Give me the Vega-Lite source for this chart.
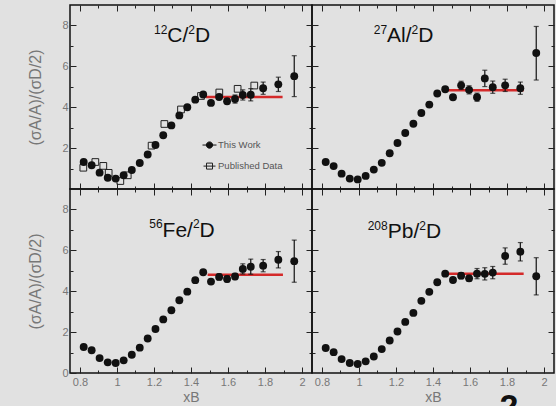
{
  "$schema": "https://vega.github.io/schema/vega-lite/v6.json",
  "background": "#e1e1e1",
  "padding": {"left": 27, "top": 3, "right": 0, "bottom": 0},
  "config": {
    "font": "Liberation Sans",
    "view": {"stroke": "#111", "strokeWidth": 1.5},
    "axis": {
      "domain": false, "grid": false, "tickColor": "#222", "tickWidth": 1,
      "labelFont": "Liberation Sans", "labelFontSize": 11, "labelColor": "#777",
      "titleFont": "Liberation Sans", "titleFontSize": 16, "titleColor": "#777", "titleFontWeight": "normal"
    }
  },
  "datasets": {
    "pts": [
      {"p":"C","x":0.82,"y":1.32},{"p":"C","x":0.863,"y":1.16},{"p":"C","x":0.906,"y":0.8},{"p":"C","x":0.95,"y":0.55},{"p":"C","x":0.993,"y":0.51},
      {"p":"C","x":1.036,"y":0.67},{"p":"C","x":1.08,"y":0.93},{"p":"C","x":1.123,"y":1.27},{"p":"C","x":1.166,"y":1.69},{"p":"C","x":1.208,"y":2.15},
      {"p":"C","x":1.25,"y":2.63},{"p":"C","x":1.294,"y":3.11},{"p":"C","x":1.337,"y":3.6},{"p":"C","x":1.38,"y":4.0},{"p":"C","x":1.423,"y":4.37},
      {"p":"C","x":1.466,"y":4.62},{"p":"C","x":1.508,"y":4.21},{"p":"C","x":1.552,"y":4.5},{"p":"C","x":1.595,"y":4.29},{"p":"C","x":1.638,"y":4.4},
      {"p":"C","x":1.68,"y":4.6},{"p":"C","x":1.723,"y":4.61},{"p":"C","x":1.79,"y":4.93},{"p":"C","x":1.872,"y":5.12},{"p":"C","x":1.958,"y":5.52},
      {"p":"Al","x":0.82,"y":1.32},{"p":"Al","x":0.863,"y":1.12},{"p":"Al","x":0.906,"y":0.75},{"p":"Al","x":0.95,"y":0.51},{"p":"Al","x":0.993,"y":0.47},
      {"p":"Al","x":1.036,"y":0.64},{"p":"Al","x":1.08,"y":0.95},{"p":"Al","x":1.123,"y":1.28},{"p":"Al","x":1.166,"y":1.75},{"p":"Al","x":1.208,"y":2.25},
      {"p":"Al","x":1.25,"y":2.74},{"p":"Al","x":1.294,"y":3.19},{"p":"Al","x":1.337,"y":3.72},{"p":"Al","x":1.38,"y":4.13},{"p":"Al","x":1.423,"y":4.67},
      {"p":"Al","x":1.466,"y":4.88},{"p":"Al","x":1.508,"y":4.49},{"p":"Al","x":1.552,"y":5.07},{"p":"Al","x":1.595,"y":4.85},{"p":"Al","x":1.638,"y":4.49},
      {"p":"Al","x":1.68,"y":5.41},{"p":"Al","x":1.723,"y":4.98},{"p":"Al","x":1.79,"y":5.07},{"p":"Al","x":1.872,"y":4.93},{"p":"Al","x":1.958,"y":6.65},
      {"p":"Fe","x":0.82,"y":1.27},{"p":"Fe","x":0.863,"y":1.11},{"p":"Fe","x":0.906,"y":0.73},{"p":"Fe","x":0.95,"y":0.52},{"p":"Fe","x":0.993,"y":0.49},
      {"p":"Fe","x":1.036,"y":0.62},{"p":"Fe","x":1.08,"y":0.89},{"p":"Fe","x":1.123,"y":1.24},{"p":"Fe","x":1.166,"y":1.69},{"p":"Fe","x":1.208,"y":2.15},
      {"p":"Fe","x":1.25,"y":2.62},{"p":"Fe","x":1.294,"y":3.07},{"p":"Fe","x":1.337,"y":3.56},{"p":"Fe","x":1.38,"y":3.98},{"p":"Fe","x":1.423,"y":4.54},
      {"p":"Fe","x":1.466,"y":4.93},{"p":"Fe","x":1.508,"y":4.47},{"p":"Fe","x":1.552,"y":4.7},{"p":"Fe","x":1.595,"y":4.6},{"p":"Fe","x":1.638,"y":4.72},
      {"p":"Fe","x":1.68,"y":5.09},{"p":"Fe","x":1.723,"y":5.2},{"p":"Fe","x":1.79,"y":5.25},{"p":"Fe","x":1.872,"y":5.54},{"p":"Fe","x":1.958,"y":5.47},
      {"p":"Pb","x":0.82,"y":1.22},{"p":"Pb","x":0.863,"y":1.02},{"p":"Pb","x":0.906,"y":0.68},{"p":"Pb","x":0.95,"y":0.49},{"p":"Pb","x":0.993,"y":0.44},
      {"p":"Pb","x":1.036,"y":0.57},{"p":"Pb","x":1.08,"y":0.81},{"p":"Pb","x":1.123,"y":1.17},{"p":"Pb","x":1.166,"y":1.59},{"p":"Pb","x":1.208,"y":2.03},
      {"p":"Pb","x":1.25,"y":2.5},{"p":"Pb","x":1.294,"y":2.94},{"p":"Pb","x":1.337,"y":3.53},{"p":"Pb","x":1.38,"y":3.97},{"p":"Pb","x":1.423,"y":4.44},
      {"p":"Pb","x":1.466,"y":4.86},{"p":"Pb","x":1.508,"y":4.55},{"p":"Pb","x":1.552,"y":4.76},{"p":"Pb","x":1.595,"y":4.63},{"p":"Pb","x":1.638,"y":4.86},
      {"p":"Pb","x":1.68,"y":4.85},{"p":"Pb","x":1.723,"y":4.91},{"p":"Pb","x":1.79,"y":5.72},{"p":"Pb","x":1.872,"y":5.93},{"p":"Pb","x":1.958,"y":4.73}
    ],
    "err": [
      {"p":"C","x":1.552,"lo":4.38,"hi":4.62},{"p":"C","x":1.595,"lo":4.17,"hi":4.41},{"p":"C","x":1.638,"lo":4.2,"hi":4.6},{"p":"C","x":1.68,"lo":4.35,"hi":4.85},
      {"p":"C","x":1.723,"lo":4.31,"hi":4.91},{"p":"C","x":1.79,"lo":4.63,"hi":5.23},{"p":"C","x":1.872,"lo":4.77,"hi":5.47},{"p":"C","x":1.958,"lo":4.52,"hi":6.52},
      {"p":"Al","x":1.552,"lo":4.87,"hi":5.27},{"p":"Al","x":1.595,"lo":4.65,"hi":5.05},{"p":"Al","x":1.638,"lo":4.29,"hi":4.69},{"p":"Al","x":1.68,"lo":5.01,"hi":5.81},
      {"p":"Al","x":1.723,"lo":4.68,"hi":5.28},{"p":"Al","x":1.79,"lo":4.77,"hi":5.37},{"p":"Al","x":1.872,"lo":4.63,"hi":5.23},{"p":"Al","x":1.958,"lo":5.33,"hi":7.95},
      {"p":"Fe","x":1.552,"lo":4.55,"hi":4.85},{"p":"Fe","x":1.595,"lo":4.45,"hi":4.75},{"p":"Fe","x":1.638,"lo":4.57,"hi":4.87},{"p":"Fe","x":1.68,"lo":4.84,"hi":5.34},
      {"p":"Fe","x":1.723,"lo":4.83,"hi":5.57},{"p":"Fe","x":1.79,"lo":4.95,"hi":5.55},{"p":"Fe","x":1.872,"lo":5.14,"hi":5.94},{"p":"Fe","x":1.958,"lo":4.44,"hi":6.5},
      {"p":"Pb","x":1.552,"lo":4.61,"hi":4.91},{"p":"Pb","x":1.595,"lo":4.48,"hi":4.78},{"p":"Pb","x":1.638,"lo":4.61,"hi":5.11},{"p":"Pb","x":1.68,"lo":4.55,"hi":5.15},
      {"p":"Pb","x":1.723,"lo":4.61,"hi":5.21},{"p":"Pb","x":1.79,"lo":5.32,"hi":6.12},{"p":"Pb","x":1.872,"lo":5.48,"hi":6.38},{"p":"Pb","x":1.958,"lo":3.82,"hi":5.64}
    ],
    "fit": [
      {"p":"C","x1":1.48,"x2":1.895,"y":4.5},{"p":"Al","x1":1.48,"x2":1.89,"y":4.83},
      {"p":"Fe","x1":1.49,"x2":1.897,"y":4.81},{"p":"Pb","x1":1.48,"x2":1.89,"y":4.85}
    ],
    "pub": [
      {"x":0.818,"y":1.04},{"x":0.883,"y":1.32},{"x":0.926,"y":1.13},{"x":0.955,"y":0.79},{"x":1.018,"y":0.39},{"x":1.058,"y":0.67},
      {"x":1.187,"y":2.12},{"x":1.256,"y":3.18},{"x":1.346,"y":3.89},{"x":1.454,"y":4.55},{"x":1.553,"y":4.72},{"x":1.652,"y":4.9},{"x":1.742,"y":5.06}
    ],
    "lab": [
      {"p":"C","k":"sup","x":1.2,"y":7.56,"t":"12"},{"p":"C","k":"main","x":1.2719,"y":7.17,"t":"C/"},
      {"p":"C","k":"sup","x":1.3854,"y":7.56,"t":"2"},{"p":"C","k":"main","x":1.4216,"y":7.17,"t":"D"},
      {"p":"Al","k":"sup","x":1.0795,"y":7.56,"t":"27"},{"p":"Al","k":"main","x":1.1514,"y":7.17,"t":"Al/"},
      {"p":"Al","k":"sup","x":1.2838,"y":7.56,"t":"2"},{"p":"Al","k":"main","x":1.32,"y":7.17,"t":"D"},
      {"p":"Fe","k":"sup","x":1.1746,"y":7.09,"t":"56"},{"p":"Fe","k":"main","x":1.2465,"y":6.66,"t":"Fe/"},
      {"p":"Fe","k":"sup","x":1.4103,"y":7.09,"t":"2"},{"p":"Fe","k":"main","x":1.4465,"y":6.66,"t":"D"},
      {"p":"Pb","k":"sup","x":1.047,"y":7.01,"t":"208"},{"p":"Pb","k":"main","x":1.1551,"y":6.58,"t":"Pb/"},
      {"p":"Pb","k":"sup","x":1.3254,"y":7.01,"t":"2"},{"p":"Pb","k":"main","x":1.3616,"y":6.58,"t":"D"}
    ],
    "leg": [
      {"k":"work","x":1.5,"tx":1.546,"y":2.15,"t":"This Work"},
      {"k":"pub","x":1.5,"tx":1.546,"y":1.12,"t":"Published Data"}
    ],
    "big": [{"x":1.81,"y":-2.2,"t":"2"}]
  },
  "columns": 2,
  "spacing": 0,
  "bounds": "flush",
  "concat": [
      {"width": 242, "height": 184,
       "resolve": {"axis": {"x": "independent", "y": "independent"}},
       "layer": [
        {"data": {"name": "fit"}, "transform": [{"filter": "datum.p === 'C'"}],
         "mark": {"type": "rule", "color": "#d42a2a", "strokeWidth": 2.5},
         "encoding": {
           "x": {"field": "x1", "type": "quantitative", "scale": {"domain": [0.746, 2.054], "nice": false, "zero": false},
                 "axis": {"orient": "bottom", "values": [0.8,0.9,1,1.1,1.2,1.3,1.4,1.5,1.6,1.7,1.8,1.9,2], "labels": false, "title": null,
                          "tickSize": {"condition": {"test": "round(datum.value*10) % 2 === 0", "value": -6}, "value": -3}}},
           "x2": {"field": "x2"},
           "y": {"field": "y", "type": "quantitative", "scale": {"domain": [0, 9], "nice": false, "zero": false},
                 "axis": {"orient": "left", "values": [1,2,3,4,5,6,7,8], "labelExpr": "datum.value % 2 === 0 ? datum.label : ''",
                          "labelOverlap": false, "labelPadding": 8, "title": "(σA/A)/(σD/2)", "titlePadding": 18,
                          "tickSize": {"condition": {"test": "datum.value % 2 === 0", "value": -6}, "value": -3}}}
         }},
        {"data": {"name": "err"}, "transform": [{"filter": "datum.p === 'C'"}],
         "mark": {"type": "rule", "color": "#111", "strokeWidth": 1.2},
         "encoding": {
           "x": {"field": "x", "type": "quantitative",
                 "axis": {"orient": "top", "values": [0.8,0.9,1,1.1,1.2,1.3,1.4,1.5,1.6,1.7,1.8,1.9,2], "labels": false, "title": null,
                          "tickSize": {"condition": {"test": "round(datum.value*10) % 2 === 0", "value": -6}, "value": -3}}},
           "y": {"field": "lo", "type": "quantitative",
                 "axis": {"orient": "right", "values": [1,2,3,4,5,6,7,8], "labels": false, "title": null,
                          "tickSize": {"condition": {"test": "datum.value % 2 === 0", "value": -6}, "value": -3}}},
           "y2": {"field": "hi"}
         }},
        {"data": {"name": "err"}, "transform": [{"filter": "datum.p === 'C'"}],
         "mark": {"type": "tick", "orient": "horizontal", "color": "#111", "size": 5, "thickness": 1.2},
         "encoding": {"x": {"field": "x", "type": "quantitative", "axis": null}, "y": {"field": "lo", "type": "quantitative", "axis": null}}},
        {"data": {"name": "err"}, "transform": [{"filter": "datum.p === 'C'"}],
         "mark": {"type": "tick", "orient": "horizontal", "color": "#111", "size": 5, "thickness": 1.2},
         "encoding": {"x": {"field": "x", "type": "quantitative", "axis": null}, "y": {"field": "hi", "type": "quantitative", "axis": null}}},
        {"data": {"name": "pub"},
         "mark": {"type": "point", "shape": "square", "filled": false, "stroke": "#222", "strokeWidth": 1, "size": 45, "opacity": 1},
         "encoding": {"x": {"field": "x", "type": "quantitative", "axis": null}, "y": {"field": "y", "type": "quantitative", "axis": null}}},
        {"data": {"name": "pts"}, "transform": [{"filter": "datum.p === 'C'"}],
         "mark": {"type": "circle", "color": "#111", "size": 62, "opacity": 1},
         "encoding": {"x": {"field": "x", "type": "quantitative", "axis": null}, "y": {"field": "y", "type": "quantitative", "axis": null}}},
        {"data": {"name": "lab"}, "transform": [{"filter": "datum.p === 'C' && datum.k === 'main'"}],
         "mark": {"type": "text", "fontSize": 21, "color": "#111", "align": "left", "baseline": "alphabetic"},
         "encoding": {"x": {"field": "x", "type": "quantitative", "axis": null}, "y": {"field": "y", "type": "quantitative", "axis": null}, "text": {"field": "t"}}},
        {"data": {"name": "lab"}, "transform": [{"filter": "datum.p === 'C' && datum.k === 'sup'"}],
         "mark": {"type": "text", "fontSize": 12, "color": "#111", "align": "left", "baseline": "alphabetic"},
         "encoding": {"x": {"field": "x", "type": "quantitative", "axis": null}, "y": {"field": "y", "type": "quantitative", "axis": null}, "text": {"field": "t"}}},
        {"data": {"name": "leg"}, "transform": [{"filter": "datum.k === 'work'"}],
         "mark": {"type": "point", "shape": "M-1,0H1M-0.45,0A0.45,0.45 0 1,0 0.45,0A0.45,0.45 0 1,0 -0.45,0Z", "fill": "#111", "stroke": "#111", "strokeWidth": 1, "size": 196, "opacity": 1},
         "encoding": {"x": {"field": "x", "type": "quantitative", "axis": null}, "y": {"field": "y", "type": "quantitative", "axis": null}}},
        {"data": {"name": "leg"}, "transform": [{"filter": "datum.k === 'pub'"}],
         "mark": {"type": "point", "shape": "M-1,0H1M-0.5,-0.5H0.5V0.5H-0.5Z", "filled": false, "fill": null, "stroke": "#222", "strokeWidth": 1, "size": 144, "opacity": 1},
         "encoding": {"x": {"field": "x", "type": "quantitative", "axis": null}, "y": {"field": "y", "type": "quantitative", "axis": null}}},
        {"data": {"name": "leg"},
         "mark": {"type": "text", "fontSize": 9.5, "color": "#555", "align": "left", "baseline": "middle"},
         "encoding": {"x": {"field": "tx", "type": "quantitative", "axis": null}, "y": {"field": "y", "type": "quantitative", "axis": null}, "text": {"field": "t"}}}
       ]},
      {"width": 242, "height": 184,
       "resolve": {"axis": {"x": "independent", "y": "independent"}},
       "layer": [
        {"data": {"name": "fit"}, "transform": [{"filter": "datum.p === 'Al'"}],
         "mark": {"type": "rule", "color": "#d42a2a", "strokeWidth": 2.5},
         "encoding": {
           "x": {"field": "x1", "type": "quantitative", "scale": {"domain": [0.746, 2.054], "nice": false, "zero": false},
                 "axis": {"orient": "bottom", "values": [0.8,0.9,1,1.1,1.2,1.3,1.4,1.5,1.6,1.7,1.8,1.9,2], "labels": false, "title": null,
                          "tickSize": {"condition": {"test": "round(datum.value*10) % 2 === 0", "value": -6}, "value": -3}}},
           "x2": {"field": "x2"},
           "y": {"field": "y", "type": "quantitative", "scale": {"domain": [0, 9], "nice": false, "zero": false},
                 "axis": {"orient": "left", "values": [1,2,3,4,5,6,7,8], "labels": false, "title": null,
                          "tickSize": {"condition": {"test": "datum.value % 2 === 0", "value": -6}, "value": -3}}}
         }},
        {"data": {"name": "err"}, "transform": [{"filter": "datum.p === 'Al'"}],
         "mark": {"type": "rule", "color": "#111", "strokeWidth": 1.2},
         "encoding": {
           "x": {"field": "x", "type": "quantitative",
                 "axis": {"orient": "top", "values": [0.8,0.9,1,1.1,1.2,1.3,1.4,1.5,1.6,1.7,1.8,1.9,2], "labels": false, "title": null,
                          "tickSize": {"condition": {"test": "round(datum.value*10) % 2 === 0", "value": -6}, "value": -3}}},
           "y": {"field": "lo", "type": "quantitative",
                 "axis": {"orient": "right", "values": [1,2,3,4,5,6,7,8], "labels": false, "title": null,
                          "tickSize": {"condition": {"test": "datum.value % 2 === 0", "value": -6}, "value": -3}}},
           "y2": {"field": "hi"}
         }},
        {"data": {"name": "err"}, "transform": [{"filter": "datum.p === 'Al'"}],
         "mark": {"type": "tick", "orient": "horizontal", "color": "#111", "size": 5, "thickness": 1.2},
         "encoding": {"x": {"field": "x", "type": "quantitative", "axis": null}, "y": {"field": "lo", "type": "quantitative", "axis": null}}},
        {"data": {"name": "err"}, "transform": [{"filter": "datum.p === 'Al'"}],
         "mark": {"type": "tick", "orient": "horizontal", "color": "#111", "size": 5, "thickness": 1.2},
         "encoding": {"x": {"field": "x", "type": "quantitative", "axis": null}, "y": {"field": "hi", "type": "quantitative", "axis": null}}},
        {"data": {"name": "pts"}, "transform": [{"filter": "datum.p === 'Al'"}],
         "mark": {"type": "circle", "color": "#111", "size": 62, "opacity": 1},
         "encoding": {"x": {"field": "x", "type": "quantitative", "axis": null}, "y": {"field": "y", "type": "quantitative", "axis": null}}},
        {"data": {"name": "lab"}, "transform": [{"filter": "datum.p === 'Al' && datum.k === 'main'"}],
         "mark": {"type": "text", "fontSize": 21, "color": "#111", "align": "left", "baseline": "alphabetic"},
         "encoding": {"x": {"field": "x", "type": "quantitative", "axis": null}, "y": {"field": "y", "type": "quantitative", "axis": null}, "text": {"field": "t"}}},
        {"data": {"name": "lab"}, "transform": [{"filter": "datum.p === 'Al' && datum.k === 'sup'"}],
         "mark": {"type": "text", "fontSize": 12, "color": "#111", "align": "left", "baseline": "alphabetic"},
         "encoding": {"x": {"field": "x", "type": "quantitative", "axis": null}, "y": {"field": "y", "type": "quantitative", "axis": null}, "text": {"field": "t"}}}
       ]},
      {"width": 242, "height": 184,
       "resolve": {"axis": {"x": "independent", "y": "independent"}},
       "layer": [
        {"data": {"name": "fit"}, "transform": [{"filter": "datum.p === 'Fe'"}],
         "mark": {"type": "rule", "color": "#d42a2a", "strokeWidth": 2.5},
         "encoding": {
           "x": {"field": "x1", "type": "quantitative", "scale": {"domain": [0.746, 2.054], "nice": false, "zero": false},
                 "axis": {"orient": "bottom", "values": [0.8,0.9,1,1.1,1.2,1.3,1.4,1.5,1.6,1.7,1.8,1.9,2],
                          "labelExpr": "round(datum.value*10) % 2 === 0 ? format(datum.value, '~g') : ''",
                          "labelFlush": false, "labelOverlap": false, "labelPadding": 9, "title": "xB", "titlePadding": 0, "titleFontSize": 14,
                          "tickSize": {"condition": {"test": "round(datum.value*10) % 2 === 0", "value": -6}, "value": -3}}},
           "x2": {"field": "x2"},
           "y": {"field": "y", "type": "quantitative", "scale": {"domain": [0, 9], "nice": false, "zero": false},
                 "axis": {"orient": "left", "values": [0,1,2,3,4,5,6,7,8], "labelExpr": "datum.value % 2 === 0 ? datum.label : ''",
                          "labelOverlap": false, "labelPadding": 8, "title": "(σA/A)/(σD/2)", "titlePadding": 18,
                          "tickSize": {"condition": {"test": "datum.value % 2 === 0", "value": -6}, "value": -3}}}
         }},
        {"data": {"name": "err"}, "transform": [{"filter": "datum.p === 'Fe'"}],
         "mark": {"type": "rule", "color": "#111", "strokeWidth": 1.2},
         "encoding": {
           "x": {"field": "x", "type": "quantitative",
                 "axis": {"orient": "top", "values": [0.8,0.9,1,1.1,1.2,1.3,1.4,1.5,1.6,1.7,1.8,1.9,2], "labels": false, "title": null,
                          "tickSize": {"condition": {"test": "round(datum.value*10) % 2 === 0", "value": -6}, "value": -3}}},
           "y": {"field": "lo", "type": "quantitative",
                 "axis": {"orient": "right", "values": [1,2,3,4,5,6,7,8], "labels": false, "title": null,
                          "tickSize": {"condition": {"test": "datum.value % 2 === 0", "value": -6}, "value": -3}}},
           "y2": {"field": "hi"}
         }},
        {"data": {"name": "err"}, "transform": [{"filter": "datum.p === 'Fe'"}],
         "mark": {"type": "tick", "orient": "horizontal", "color": "#111", "size": 5, "thickness": 1.2},
         "encoding": {"x": {"field": "x", "type": "quantitative", "axis": null}, "y": {"field": "lo", "type": "quantitative", "axis": null}}},
        {"data": {"name": "err"}, "transform": [{"filter": "datum.p === 'Fe'"}],
         "mark": {"type": "tick", "orient": "horizontal", "color": "#111", "size": 5, "thickness": 1.2},
         "encoding": {"x": {"field": "x", "type": "quantitative", "axis": null}, "y": {"field": "hi", "type": "quantitative", "axis": null}}},
        {"data": {"name": "pts"}, "transform": [{"filter": "datum.p === 'Fe'"}],
         "mark": {"type": "circle", "color": "#111", "size": 62, "opacity": 1},
         "encoding": {"x": {"field": "x", "type": "quantitative", "axis": null}, "y": {"field": "y", "type": "quantitative", "axis": null}}},
        {"data": {"name": "lab"}, "transform": [{"filter": "datum.p === 'Fe' && datum.k === 'main'"}],
         "mark": {"type": "text", "fontSize": 21, "color": "#111", "align": "left", "baseline": "alphabetic"},
         "encoding": {"x": {"field": "x", "type": "quantitative", "axis": null}, "y": {"field": "y", "type": "quantitative", "axis": null}, "text": {"field": "t"}}},
        {"data": {"name": "lab"}, "transform": [{"filter": "datum.p === 'Fe' && datum.k === 'sup'"}],
         "mark": {"type": "text", "fontSize": 12, "color": "#111", "align": "left", "baseline": "alphabetic"},
         "encoding": {"x": {"field": "x", "type": "quantitative", "axis": null}, "y": {"field": "y", "type": "quantitative", "axis": null}, "text": {"field": "t"}}}
       ]},
      {"width": 242, "height": 184,
       "resolve": {"axis": {"x": "independent", "y": "independent"}},
       "layer": [
        {"data": {"name": "fit"}, "transform": [{"filter": "datum.p === 'Pb'"}],
         "mark": {"type": "rule", "color": "#d42a2a", "strokeWidth": 2.5},
         "encoding": {
           "x": {"field": "x1", "type": "quantitative", "scale": {"domain": [0.746, 2.054], "nice": false, "zero": false},
                 "axis": {"orient": "bottom", "values": [0.8,0.9,1,1.1,1.2,1.3,1.4,1.5,1.6,1.7,1.8,1.9,2],
                          "labelExpr": "round(datum.value*10) % 2 === 0 ? format(datum.value, '~g') : ''",
                          "labelFlush": false, "labelOverlap": false, "labelPadding": 9, "title": "xB", "titlePadding": 0, "titleFontSize": 14,
                          "tickSize": {"condition": {"test": "round(datum.value*10) % 2 === 0", "value": -6}, "value": -3}}},
           "x2": {"field": "x2"},
           "y": {"field": "y", "type": "quantitative", "scale": {"domain": [0, 9], "nice": false, "zero": false},
                 "axis": {"orient": "left", "values": [1,2,3,4,5,6,7,8], "labels": false, "title": null,
                          "tickSize": {"condition": {"test": "datum.value % 2 === 0", "value": -6}, "value": -3}}}
         }},
        {"data": {"name": "err"}, "transform": [{"filter": "datum.p === 'Pb'"}],
         "mark": {"type": "rule", "color": "#111", "strokeWidth": 1.2},
         "encoding": {
           "x": {"field": "x", "type": "quantitative",
                 "axis": {"orient": "top", "values": [0.8,0.9,1,1.1,1.2,1.3,1.4,1.5,1.6,1.7,1.8,1.9,2], "labels": false, "title": null,
                          "tickSize": {"condition": {"test": "round(datum.value*10) % 2 === 0", "value": -6}, "value": -3}}},
           "y": {"field": "lo", "type": "quantitative",
                 "axis": {"orient": "right", "values": [1,2,3,4,5,6,7,8], "labels": false, "title": null,
                          "tickSize": {"condition": {"test": "datum.value % 2 === 0", "value": -6}, "value": -3}}},
           "y2": {"field": "hi"}
         }},
        {"data": {"name": "err"}, "transform": [{"filter": "datum.p === 'Pb'"}],
         "mark": {"type": "tick", "orient": "horizontal", "color": "#111", "size": 5, "thickness": 1.2},
         "encoding": {"x": {"field": "x", "type": "quantitative", "axis": null}, "y": {"field": "lo", "type": "quantitative", "axis": null}}},
        {"data": {"name": "err"}, "transform": [{"filter": "datum.p === 'Pb'"}],
         "mark": {"type": "tick", "orient": "horizontal", "color": "#111", "size": 5, "thickness": 1.2},
         "encoding": {"x": {"field": "x", "type": "quantitative", "axis": null}, "y": {"field": "hi", "type": "quantitative", "axis": null}}},
        {"data": {"name": "pts"}, "transform": [{"filter": "datum.p === 'Pb'"}],
         "mark": {"type": "circle", "color": "#111", "size": 62, "opacity": 1},
         "encoding": {"x": {"field": "x", "type": "quantitative", "axis": null}, "y": {"field": "y", "type": "quantitative", "axis": null}}},
        {"data": {"name": "lab"}, "transform": [{"filter": "datum.p === 'Pb' && datum.k === 'main'"}],
         "mark": {"type": "text", "fontSize": 21, "color": "#111", "align": "left", "baseline": "alphabetic"},
         "encoding": {"x": {"field": "x", "type": "quantitative", "axis": null}, "y": {"field": "y", "type": "quantitative", "axis": null}, "text": {"field": "t"}}},
        {"data": {"name": "lab"}, "transform": [{"filter": "datum.p === 'Pb' && datum.k === 'sup'"}],
         "mark": {"type": "text", "fontSize": 12, "color": "#111", "align": "left", "baseline": "alphabetic"},
         "encoding": {"x": {"field": "x", "type": "quantitative", "axis": null}, "y": {"field": "y", "type": "quantitative", "axis": null}, "text": {"field": "t"}}},
        {"data": {"name": "big"},
         "mark": {"type": "text", "fontSize": 34, "fontWeight": "bold", "color": "#111", "align": "center", "baseline": "alphabetic"},
         "encoding": {"x": {"field": "x", "type": "quantitative", "axis": null}, "y": {"field": "y", "type": "quantitative", "axis": null}, "text": {"field": "t"}}}
       ]}
  ]
}
